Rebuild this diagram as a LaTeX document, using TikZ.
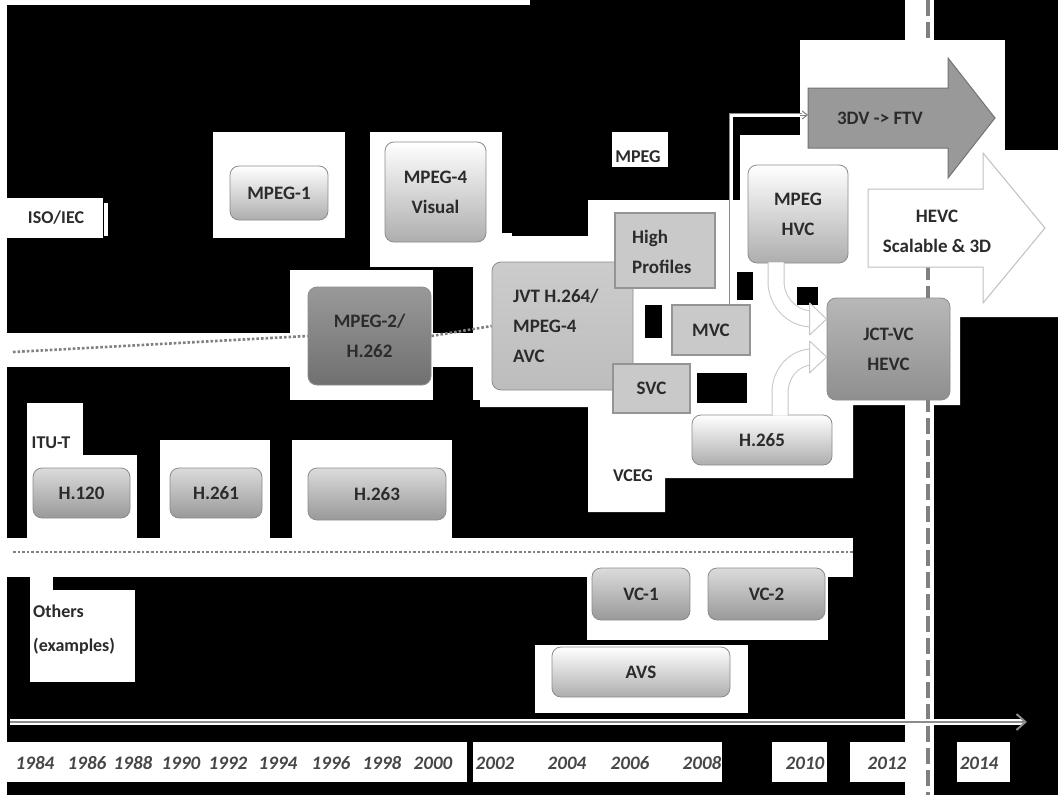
\documentclass[tikz,border=0pt]{standalone}
\usepackage{fontspec}
\setmainfont{Carlito}
\usetikzlibrary{calc,arrows.meta}
\definecolor{txt}{gray}{0.17}
\begin{document}
\begin{tikzpicture}[x=1pt,y=-1pt,
  bfont/.style={font=\bfseries\fontsize{19}{30}\selectfont, text=txt},
  lbl/.style={bfont, font=\bfseries\fontsize{18}{34}\selectfont, align=left, inner sep=0},
  yr/.style={font=\bfseries\itshape\fontsize{19}{22}\selectfont, text=black!72, inner sep=0},
  base/.style={bfont, rounded corners=9pt, draw=black!45, line width=0.8pt, align=center, inner sep=0},
  lightbox/.style={base, top color=white, middle color=black!6, bottom color=black!32},
  itubox/.style={base, top color=black!14, middle color=black!20, bottom color=black!40},
  darkbox/.style={base, top color=black!40, middle color=black!45, bottom color=black!56},
  jvtbox/.style={base, top color=black!20, bottom color=black!26},
  jctbox/.style={base, top color=black!28, middle color=black!33, bottom color=black!44},
  subbox/.style={bfont, rectangle, draw=black!42, line width=1.2pt, fill=black!21, inner sep=0},
  patch/.style={fill=white},
  sep/.style={black!50, line width=2.6pt, dash pattern=on 2.6pt off 2pt},
  fat/.style={draw=black!22, double=white, double distance=15pt, line width=1pt},
  fathead/.style={draw=black!22, fill=white, line width=1pt, line join=round},
  link/.style={draw=black!45, double=white, double distance=3pt, line width=0.8pt}
]
\useasboundingbox (0,0) rectangle (1058,795);
\fill[black] (0,0) rectangle (1058,795);
% white patches
\fill[patch] (0,0) rectangle (530,5);
\fill[patch] (0,0) rectangle (7,795);
\fill[patch] (7,198) rectangle (103,238);
\fill[patch] (104,203) rectangle (108,236);
\fill[patch] (213,132) rectangle (345,238);
\fill[patch] (370,132) rectangle (502,267);
\fill[patch] (7,333) rectangle (492,367);
\fill[patch] (290,270) rectangle (433,400);
\fill[patch] (473,258) rectangle (500,400);
\fill[patch] (612,132) rectangle (668,167);
\fill[patch] (480,233) -- (588,233) -- (588,200) -- (740,200) -- (740,135) -- (805,135) -- (805,45)
  -- (1000,45) -- (1000,150) -- (1058,150) -- (1058,317) -- (960,317) -- (960,405) -- (853,405)
  -- (853,478) -- (665,478) -- (665,512) -- (588,512) -- (588,407) -- (480,407) -- cycle;
\fill[black] (697,373) rectangle (747,403);
\fill[black] (737,272) rectangle (753,300);
\fill[black] (645,305) rectangle (662,338);
\fill[black] (797,287) rectangle (818,305);
\fill[black] (512,233) rectangle (588,236);
\fill[patch] (27,403) rectangle (83,460);
\fill[patch] (27,455) rectangle (137,538);
\fill[patch] (160,440) rectangle (270,538);
\fill[patch] (292,440) rectangle (452,538);
\fill[patch] (7,538) rectangle (853,577);
\fill[patch] (587,540) rectangle (828,640);
\fill[patch] (535,645) rectangle (748,713);
\fill[patch] (30,577) rectangle (53,592);
\fill[patch] (30,590) rectangle (135,682);
\fill[patch] (7,742) rectangle (467,782);
\fill[patch] (473,742) rectangle (722,782);
\fill[patch] (772,742) rectangle (827,782);
\fill[patch] (850,742) rectangle (907,782);
\fill[patch] (957,742) rectangle (1010,782);
\fill[patch] (905,0) rectangle (934,795);
% vertical dashed line
\draw[black!50, line width=3.5pt, dash pattern=on 16pt off 6pt] (928,0) -- (928,795);

% labels
\node[lbl] (iso) at (56,218) {ISO/IEC};
\node[lbl] (itu) at (51,443) {ITU-T};
\node[lbl, anchor=west] (others) at (33,630) {Others\\(examples)};
\node[lbl] (mpeglbl) at (638,157) {MPEG};
\node[lbl] (vceg) at (633,476) {VCEG};

% boxes
\node[lightbox, minimum width=98pt, minimum height=54pt] (mpeg1) at (279,193) {MPEG-1};
\node[lightbox, minimum width=101pt, minimum height=100pt] (mpeg4) at (435.5,192) {MPEG-4\\Visual};
\node[darkbox, minimum width=123pt, minimum height=98pt] (mpeg2) at (369.5,336) {MPEG-2/\\H.262};
\node[jvtbox, minimum width=141pt, minimum height=128pt] (jvt) at (562.5,326) {};

% separators
\draw[sep] (13,352) -- (mpeg2.west);
\draw[sep] (mpeg2.east) -- (jvt.west);
\draw[sep] (13,552) -- (853,552);

\node[bfont, anchor=west, align=left, inner sep=0] (jvttxt) at (513,326) {JVT H.264/\\MPEG-4\\AVC};
\node[subbox, minimum width=100pt, minimum height=75pt] (high) at (665,250.5) {};
\node[bfont, anchor=west, align=left, inner sep=0] (hightxt) at (632,252) {High\\Profiles};
\node[subbox, minimum width=78pt, minimum height=50pt] (mvc) at (711,330) {MVC};
\node[subbox, minimum width=77pt, minimum height=49pt] (svc) at (651.5,388.5) {SVC};

% 3DV -> FTV arrow
\fill[patch] (800,40) rectangle (1005,190);
\draw[black!55, fill=black!40, line width=1pt] (808,88) -- (948,88) -- (948,58) -- (995,118) -- (948,178) -- (948,148) -- (808,148) -- cycle;
\node[bfont] (ftv) at (880,118) {3DV -> FTV};
\coordinate (a3dv) at (808,115);
% HEVC scalable arrow
\draw[black!25, fill=white, line width=1pt] (868,189) -- (983,189) -- (983,153) -- (1045,228) -- (983,303) -- (983,267) -- (868,267) -- cycle;
\node[bfont, align=center] (hevcs) at (937,231) {HEVC\\Scalable \& 3D};

% link MVC -> 3DV
\draw[link] ([xshift=20pt]mvc.north) |- ([xshift=-6pt]a3dv);
\draw[black!50, line width=1pt, -{Straight Barb[length=5pt,width=8pt]}] ([xshift=-8pt]a3dv) -- (a3dv);

% HVC, H.265, JCT-VC
\node[lightbox, minimum width=100pt, minimum height=98pt] (hvc) at (798,214) {};
\node[lightbox, minimum width=140pt, minimum height=50pt] (h265) at (762,440) {H.265};
\node[jctbox, minimum width=123pt, minimum height=102pt] (jct) at (888.5,349) {JCT-VC\\HEVC};
\draw[fat] ([xshift=-22pt,yshift=1pt]hvc.south) -- ([xshift=-22pt,yshift=-18pt]hvc.south)
  to[out=-90,in=180] ([xshift=-14pt,yshift=30pt]jct.west);
\draw[fat] ([xshift=18pt,yshift=-1pt]h265.north) -- ([xshift=18pt,yshift=22pt]h265.north)
  to[out=90,in=180] ([xshift=-14pt,yshift=-8pt]jct.west);
\draw[fathead] ([yshift=30pt]jct.west) -- ++(-17,-16) -- ++(0,32) -- cycle;
\draw[fathead] ([yshift=-8pt]jct.west) -- ++(-17,-16) -- ++(0,32) -- cycle;
\node[bfont, align=center] (hvctxt) at (hvc.center) {MPEG\\HVC};

% ITU-T boxes
\node[itubox, minimum width=97pt, minimum height=50pt] (h120) at (81.5,493) {H.120};
\node[itubox, minimum width=92pt, minimum height=50pt] (h261) at (216,493) {H.261};
\node[itubox, minimum width=138pt, minimum height=52pt] (h263) at (377,494) {H.263};
% others
\node[itubox, minimum width=98pt, minimum height=52pt] (vc1) at (641,594) {VC-1};
\node[itubox, minimum width=117pt, minimum height=52pt] (vc2) at (766.5,594) {VC-2};
\node[lightbox, minimum width=178pt, minimum height=50pt] (avs) at (641,672) {AVS};

% timeline
\coordinate (tl0) at (10,722);
\coordinate (tl1) at (1027,722);
\draw[white, line width=6pt] (tl0) -- ([xshift=-4pt]tl1);
\draw[black!45, line width=2pt, -{Straight Barb[length=9pt,width=16pt]}] (tl0) -- (tl1);

% years
\foreach \yv/\xv in {1984/35,1986/87,1988/133,1990/181,1992/228,1994/278,1996/331,1998/382,2000/433,2002/495,2004/567,2006/630,2008/702,2010/805,2012/887,2014/979}
  \node[yr] (y\yv) at (\xv,763) {\yv};
\end{tikzpicture}
\end{document}
